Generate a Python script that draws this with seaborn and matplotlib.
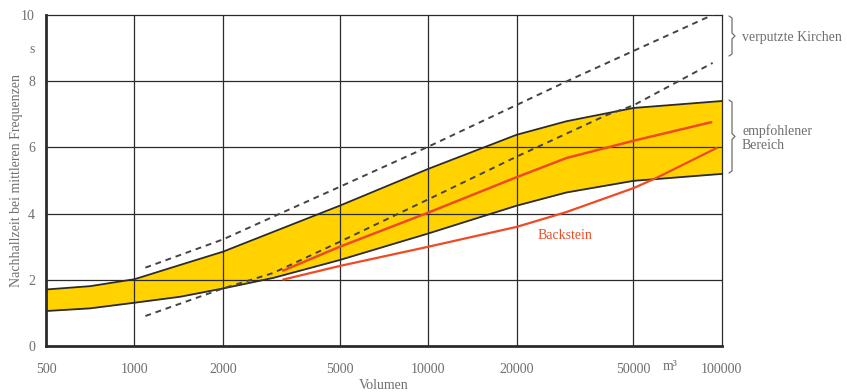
import numpy as np
import pandas as pd
import matplotlib.pyplot as plt
import seaborn as sns

# ------------------------------------------------------------
# Data
# ------------------------------------------------------------
# empfohlener Bereich (yellow band)
band_vol = [500, 706, 1000, 1430, 2000, 2970, 5000, 10000, 20000, 29600, 50000, 100000]
band_upper = [1.71, 1.81, 2.02, 2.45, 2.85, 3.45, 4.24, 5.35, 6.38, 6.79, 7.19, 7.40]
band_lower = [1.06, 1.14, 1.31, 1.49, 1.74, 2.06, 2.60, 3.40, 4.24, 4.64, 4.99, 5.20]

# verputzte Kirchen (dashed)
dash_up_vol = [1090, 2000, 3130, 5000, 10000, 20000, 30400, 93000]
dash_upper = [2.37, 3.22, 4.00, 4.81, 6.02, 7.28, 8.04, 10.0]
dash_lo_vol = [1090, 2000, 2970, 5000, 10000, 20000, 40600, 50000, 93000]
dash_lower = [0.91, 1.74, 2.21, 3.15, 4.43, 5.72, 6.98, 7.27, 8.55]

# red curves
red_vol = [3210, 5000, 10000, 20000, 29600, 50000, 92000]
red_upper = [2.28, 3.00, 4.03, 5.10, 5.68, 6.20, 6.76]
back_vol = [3210, 5000, 10000, 20000, 29600, 50000, 59900, 95900]
back_stein = [2.01, 2.42, 3.00, 3.60, 4.05, 4.77, 5.08, 5.98]

x_ticks = [500, 1000, 2000, 5000, 10000, 20000, 50000, 100000]
y_ticks = [0, 2, 4, 6, 8, 9, 10]
y_labels = ['0', '2', '4', '6', '8', 's', '10']

YELLOW = '#FFD200'
RED = '#EE4B24'
GREY = '#6f6f6f'
LINE = '#2b2b2b'

sns.set_style('white')
plt.rcParams['font.family'] = ['Liberation Serif', 'DejaVu Serif']

fig = plt.figure(figsize=(8.47, 3.92), dpi=100)
ax = fig.add_axes([0.0543, 0.117, 0.798, 0.845])

# band
ax.fill_between(band_vol, band_lower, band_upper, color=YELLOW, lw=0, zorder=1)
band = pd.DataFrame({'Volumen': band_vol, 'oben': band_upper, 'unten': band_lower})
sns.lineplot(data=band, x='Volumen', y='oben', color=LINE, lw=1.3, ax=ax, zorder=3)
sns.lineplot(data=band, x='Volumen', y='unten', color=LINE, lw=1.3, ax=ax, zorder=3)

# dashed lines
dash_style = (0, (3, 2.5))
sns.lineplot(x=dash_up_vol, y=dash_upper, color='#444444', lw=1.4, ls=dash_style, ax=ax, zorder=4)
sns.lineplot(x=dash_lo_vol, y=dash_lower, color='#444444', lw=1.4, ls=dash_style, ax=ax, zorder=4)

# red curves
sns.lineplot(x=red_vol, y=red_upper, color=RED, lw=1.8, ax=ax, zorder=5)
sns.lineplot(x=back_vol, y=back_stein, color=RED, lw=1.6, ax=ax, zorder=5)
ax.text(23600, 3.35, 'Backstein', color=RED, fontsize=10, va='center')

ax.set_xscale('log')
ax.set_xlim(500, 100000)
ax.set_ylim(0, 10)
ax.set_xticks(x_ticks)
ax.set_xticklabels([str(v) for v in x_ticks])
ax.xaxis.set_minor_locator(plt.NullLocator())
ax.set_yticks(y_ticks)
ax.set_yticklabels(y_labels)
ax.tick_params(axis='x', length=0, labelsize=10, labelcolor=GREY, pad=12)
ax.tick_params(axis='y', length=0, labelsize=10, labelcolor=GREY, pad=8)

for v in x_ticks[1:-1]:
    ax.axvline(v, color=LINE, lw=0.9, zorder=2)
for v in [2, 4, 6, 8]:
    ax.axhline(v, color=LINE, lw=0.9, zorder=2)

for side in ['top', 'right']:
    ax.spines[side].set_color(LINE)
    ax.spines[side].set_linewidth(0.9)
for side in ['left', 'bottom']:
    ax.spines[side].set_color(LINE)
    ax.spines[side].set_linewidth(2.0)

ax.set_xlabel('Volumen', color=GREY, fontsize=10, labelpad=2)
ax.set_ylabel('Nachhallzeit bei mittleren Frequenzen', color=GREY, fontsize=10)
ax.yaxis.set_label_coords(-0.034, 0.5)
fig.text(670 / 847, 1 - 366 / 392, 'm³', color=GREY, fontsize=10, ha='center', va='center')


# curly braces on the right, in pixel coordinates of the figure
def brace(x0, y_top, y_bot, w=6):
    ym = (y_top + y_bot) / 2
    xs = [x0, x0 + w / 2, x0 + w / 2, x0 + w / 2, x0 + w,
          x0 + w / 2, x0 + w / 2, x0 + w / 2, x0]
    ys = [y_top, y_top + 2, y_top + 6, ym - 3, ym,
          ym + 3, y_bot - 6, y_bot - 2, y_bot]
    fx = np.array(xs) / 847
    fy = 1 - np.array(ys) / 392
    fig.add_artist(plt.Line2D(fx, fy, color=GREY, lw=0.9, transform=fig.transFigure))


brace(729, 16, 56)
brace(729, 100, 173)
fig.text(742 / 847, 1 - 37 / 392, 'verputzte Kirchen', color=GREY, fontsize=10, va='center')
fig.text(742 / 847, 1 - 138 / 392, 'empfohlener\nBereich', color=GREY, fontsize=10,
         va='center', linespacing=1.05)

fig.savefig('out.png', dpi=100)
